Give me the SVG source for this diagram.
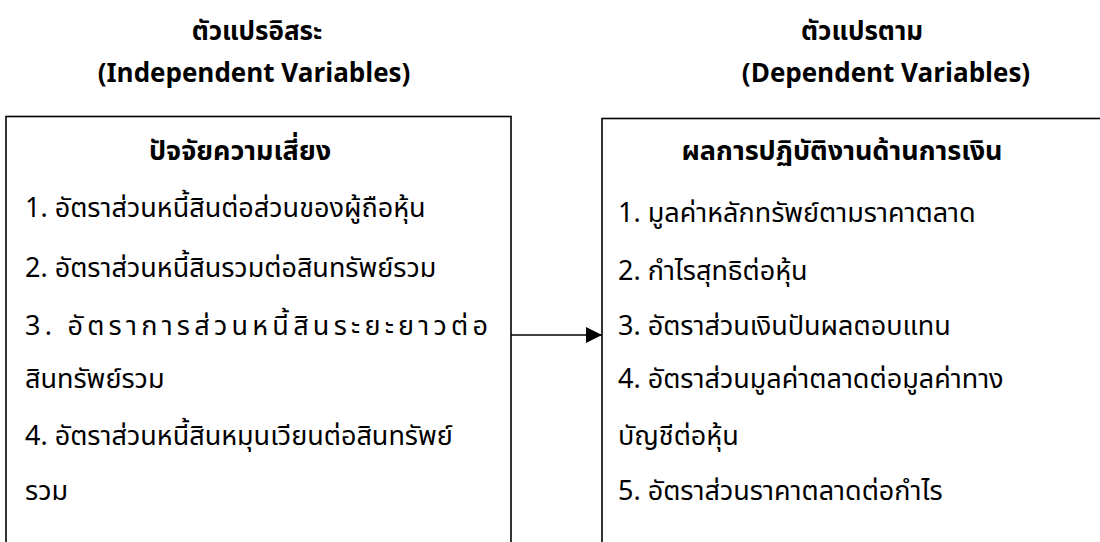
<svg xmlns="http://www.w3.org/2000/svg" width="1100" height="542" viewBox="0 0 1100 542">
  <defs>
    <marker id="arrowhead" viewBox="0 0 16 16" refX="16" refY="8" markerWidth="16" markerHeight="16" markerUnits="userSpaceOnUse" orient="auto">
      <path d="M0,0 L16,8 L0,16 Z" fill="#000"/>
    </marker>
    <style>
      text { font-family: "Noto Sans Thai", "Noto Sans", "DejaVu Sans", sans-serif; fill: #000; }
      .title { font-size: 26px; font-weight: bold; text-anchor: middle; }
      .head { font-size: 27px; font-weight: bold; text-anchor: middle; }
      .item { font-size: 27px; }
      .box { fill: #fff; stroke: #000; stroke-width: 1.6; }
      .link { stroke: #000; stroke-width: 1.5; fill: none; }
    </style>
  </defs>
  <rect width="1100" height="542" fill="#fff"/>

  <!-- column captions -->
  <g id="caption-independent">
    <text class="title" x="257" y="40">ตัวแปรอิสระ</text>
    <text class="title" x="254" y="82">(Independent Variables)</text>
  </g>
  <g id="caption-dependent">
    <text class="title" x="862" y="40">ตัวแปรตาม</text>
    <text class="title" x="886" y="82">(Dependent Variables)</text>
  </g>

  <!-- risk factors -->
  <g id="risk-factors">
    <rect class="box" x="6" y="116.5" width="505" height="440"/>
    <text class="head" x="240" y="160">ปัจจัยความเสี่ยง</text>
    <text class="item" x="25" y="217">1. อัตราส่วนหนี้สินต่อส่วนของผู้ถือหุ้น</text>
    <text class="item" x="25" y="277">2. อัตราส่วนหนี้สินรวมต่อสินทรัพย์รวม</text>
    <text class="item" x="25" y="335" textLength="463" lengthAdjust="spacing">3. อัตราการส่วนหนี้สินระยะยาวต่อ</text>
    <text class="item" x="25" y="388">สินทรัพย์รวม</text>
    <text class="item" x="25" y="445">4. อัตราส่วนหนี้สินหมุนเวียนต่อสินทรัพย์</text>
    <text class="item" x="25" y="500">รวม</text>
  </g>

  <!-- financial performance -->
  <g id="financial-performance">
    <rect class="box" x="602" y="118.5" width="510" height="440"/>
    <text class="head" x="842" y="160">ผลการปฏิบัติงานด้านการเงิน</text>
    <text class="item" x="618" y="222">1. มูลค่าหลักทรัพย์ตามราคาตลาด</text>
    <text class="item" x="618" y="280">2. กำไรสุทธิต่อหุ้น</text>
    <text class="item" x="618" y="335">3. อัตราส่วนเงินปันผลตอบแทน</text>
    <text class="item" x="618" y="388">4. อัตราส่วนมูลค่าตลาดต่อมูลค่าทาง</text>
    <text class="item" x="618" y="445">บัญชีต่อหุ้น</text>
    <text class="item" x="618" y="500">5. อัตราส่วนราคาตลาดต่อกำไร</text>
  </g>

  <!-- connectors -->
  <g id="connectors">
    <line class="link" x1="511" y1="335" x2="602" y2="335" marker-end="url(#arrowhead)"/>
  </g>
</svg>
